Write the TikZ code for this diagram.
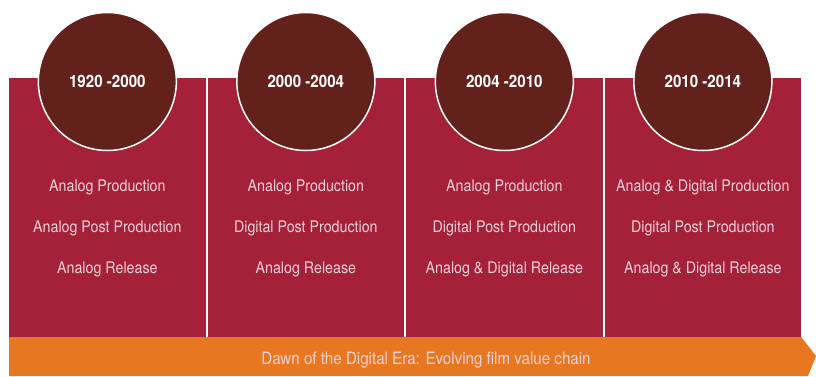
\documentclass[tikz,border=0pt]{standalone}
\usepackage{fontspec}
\setmainfont[FakeStretch=0.89]{TeX Gyre Heros}
\usetikzlibrary{positioning}
\definecolor{panelred}{HTML}{A52039}
\definecolor{circlebrown}{HTML}{63211B}
\definecolor{barorange}{HTML}{E87722}
\definecolor{paletext}{HTML}{F0D2D8}
\begin{document}
\begin{tikzpicture}[x=1pt,y=-1pt,
		panel/.style={fill=panelred, minimum width=196.7pt, minimum height=259.5pt, inner sep=0pt, outer sep=0pt},
		yearcircle/.style={circle, fill=circlebrown, draw=white, line width=1.5pt, minimum size=138pt, inner sep=0pt, text=white, font=\fontsize{17}{20}\selectfont\bfseries},
		stagetext/.style={text=paletext, font=\fontsize{16}{19}\selectfont, inner sep=0pt, anchor=base}]
		\useasboundingbox (0,0) rectangle (816,376);
		\node[panel, anchor=north west] (p1) at (9,77.5) {};
		\node[panel, right=1.8pt of p1] (p2) {};
		\node[panel, right=1.8pt of p2] (p3) {};
		\node[panel, right=1.8pt of p3] (p4) {};
		% orange bar with the arrow point
		\fill[barorange] (p1.south west) -- (p4.south east) -- (816,356) -- (808,376) -- (9,376) -- cycle;
		\node[text=paletext, font=\fontsize{17}{20}\selectfont, inner sep=0pt, anchor=base] (chain) at (426,364) {Dawn of the Digital Era: Evolving film value chain};
		\foreach \i/\yr/\prod/\post/\rel in {1/1920 -2000/Analog Production/Analog Post Production/Analog Release,
				2/2000 -2004/Analog Production/Digital Post Production/Analog Release,
				3/2004 -2010/Analog Production/Digital Post Production/Analog \& Digital Release,
				4/2010 -2014/Analog \& Digital Production/Digital Post Production/Analog \& Digital Release}
		{
			\node[yearcircle, yshift=-4pt] (y\i) at (p\i.north) {\yr};
			\node[stagetext] (prod\i) at ([yshift=-113.5pt]p\i.north) {\prod};
			\node[stagetext] (post\i) at ([yshift=-154.5pt]p\i.north) {\post};
			\node[stagetext] (rel\i) at ([yshift=-195.8pt]p\i.north) {\rel};
		}
	\end{tikzpicture}
\end{document}
